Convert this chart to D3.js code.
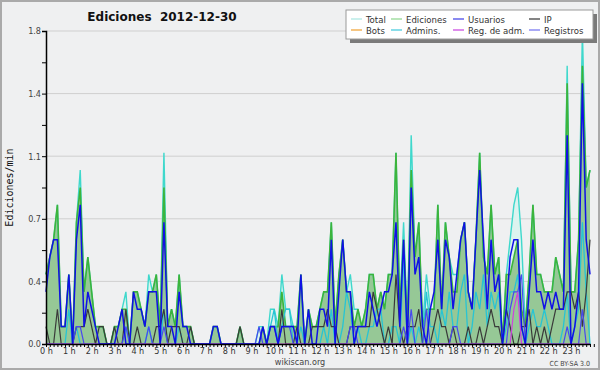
<!DOCTYPE html>
<html>
<head>
<meta charset="utf-8">
<script src="https://cdn.jsdelivr.net/npm/d3@7"></script>
<style>
  body { margin: 0; background: #fff; }
  svg { display: block; }
</style>
</head>
<body>
<svg id="chart" width="600" height="370"></svg>
<script>
// *******************
// Data (edits per minute, 10-minute bins, 2012-12-30)
// *******************

const hourLabels = ["0 h", "1 h", "2 h", "3 h", "4 h", "5 h", "6 h", "7 h", "8 h", "9 h", "10 h", "11 h",
  "12 h", "13 h", "14 h", "15 h", "16 h", "17 h", "18 h", "19 h", "20 h", "21 h", "22 h", "23 h"];
const binsPerHour = 6;
const yTicks = [0, 0.36, 0.72, 1.08, 1.44, 1.8];

const total = [
  0.4, 0.5, 0.6, 0.8, 0.1, 0.1,  0.4, 0.0, 0.7, 1.0, 0.3, 0.5,  0.3, 0.1, 0.1, 0.1, 0.0, 0.0,
  0.1, 0.1, 0.2, 0.3, 0.0, 0.3,  0.3, 0.2, 0.1, 0.4, 0.3, 0.4,  0.1, 1.1, 0.1, 0.2, 0.1, 0.4,
  0.1, 0.1, 0.1, 0.0, 0.0, 0.0,  0.0, 0.0, 0.1, 0.1, 0.0, 0.0,  0.0, 0.0, 0.0, 0.1, 0.0, 0.0,
  0.0, 0.0, 0.1, 0.1, 0.0, 0.2,  0.2, 0.1, 0.4, 0.2, 0.2, 0.1,  0.1, 0.4, 0.0, 0.2, 0.1, 0.1,
  0.2, 0.3, 0.3, 0.7, 0.1, 0.4,  0.6, 0.3, 0.4, 0.2, 0.2, 0.1,  0.2, 0.4, 0.4, 0.2, 0.3, 0.2,
  0.4, 0.4, 1.1, 0.2, 0.7, 0.1,  1.2, 0.5, 0.7, 0.1, 0.4, 0.2,  0.2, 0.8, 0.2, 0.7, 0.5, 0.4,
  0.4, 0.6, 0.7, 0.3, 0.2, 0.6,  1.1, 0.5, 0.4, 0.8, 0.4, 0.5,  0.0, 0.4, 0.6, 0.8, 0.9, 0.6,
  0.1, 0.4, 0.8, 0.4, 0.4, 0.3,  0.3, 0.3, 0.5, 0.4, 0.3, 1.6,  0.3, 0.3, 0.6, 1.8, 0.9, 1.0
];

const ediciones = [
  0.4, 0.5, 0.6, 0.8, 0.1, 0.1,  0.4, 0.0, 0.7, 0.9, 0.3, 0.5,  0.3, 0.1, 0.1, 0.1, 0.0, 0.0,
  0.1, 0.1, 0.2, 0.2, 0.0, 0.3,  0.3, 0.2, 0.1, 0.3, 0.3, 0.4,  0.1, 0.9, 0.1, 0.2, 0.1, 0.4,
  0.1, 0.1, 0.1, 0.0, 0.0, 0.0,  0.0, 0.0, 0.1, 0.1, 0.0, 0.0,  0.0, 0.0, 0.0, 0.1, 0.0, 0.0,
  0.0, 0.0, 0.0, 0.1, 0.0, 0.1,  0.1, 0.1, 0.3, 0.1, 0.1, 0.1,  0.1, 0.4, 0.0, 0.2, 0.1, 0.1,
  0.2, 0.3, 0.3, 0.7, 0.1, 0.4,  0.6, 0.3, 0.3, 0.1, 0.2, 0.1,  0.2, 0.4, 0.4, 0.2, 0.3, 0.2,
  0.4, 0.4, 1.1, 0.2, 0.6, 0.1,  1.0, 0.5, 0.7, 0.1, 0.2, 0.2,  0.2, 0.8, 0.2, 0.7, 0.5, 0.3,
  0.3, 0.6, 0.7, 0.3, 0.2, 0.6,  1.1, 0.5, 0.4, 0.8, 0.4, 0.5,  0.0, 0.4, 0.4, 0.5, 0.6, 0.2,
  0.1, 0.4, 0.8, 0.4, 0.4, 0.3,  0.3, 0.3, 0.5, 0.4, 0.3, 1.5,  0.3, 0.3, 0.6, 1.6, 0.9, 1.0
];

const usuarios = [
  0.3, 0.5, 0.6, 0.6, 0.1, 0.1,  0.4, 0.0, 0.6, 0.8, 0.1, 0.3,  0.2, 0.1, 0.0, 0.0, 0.0, 0.0,
  0.0, 0.1, 0.2, 0.0, 0.0, 0.3,  0.2, 0.2, 0.1, 0.3, 0.3, 0.3,  0.0, 0.7, 0.1, 0.1, 0.0, 0.3,
  0.1, 0.1, 0.0, 0.0, 0.0, 0.0,  0.0, 0.0, 0.1, 0.1, 0.0, 0.0,  0.0, 0.0, 0.0, 0.0, 0.0, 0.0,
  0.0, 0.0, 0.0, 0.1, 0.0, 0.1,  0.1, 0.0, 0.1, 0.1, 0.1, 0.1,  0.0, 0.4, 0.0, 0.2, 0.0, 0.0,
  0.2, 0.2, 0.1, 0.6, 0.0, 0.3,  0.6, 0.3, 0.3, 0.0, 0.1, 0.1,  0.1, 0.3, 0.2, 0.1, 0.2, 0.3,
  0.3, 0.4, 0.7, 0.1, 0.6, 0.0,  0.9, 0.4, 0.5, 0.1, 0.0, 0.2,  0.3, 0.6, 0.2, 0.6, 0.5, 0.2,
  0.4, 0.6, 0.7, 0.3, 0.2, 0.6,  1.0, 0.6, 0.2, 0.6, 0.3, 0.4,  0.0, 0.2, 0.5, 0.6, 0.6, 0.1,
  0.0, 0.3, 0.6, 0.3, 0.3, 0.2,  0.3, 0.2, 0.3, 0.2, 0.2, 1.2,  0.0, 0.1, 0.3, 1.5, 0.6, 0.4
];

const ip = [
  0.1, 0.0, 0.0, 0.2, 0.0, 0.0,  0.0, 0.0, 0.1, 0.1, 0.1, 0.2,  0.1, 0.0, 0.1, 0.1, 0.0, 0.0,
  0.1, 0.0, 0.0, 0.2, 0.0, 0.0,  0.1, 0.0, 0.0, 0.0, 0.0, 0.1,  0.1, 0.2, 0.0, 0.1, 0.1, 0.1,
  0.0, 0.0, 0.1, 0.0, 0.0, 0.0,  0.0, 0.0, 0.0, 0.0, 0.0, 0.0,  0.0, 0.0, 0.0, 0.1, 0.0, 0.0,
  0.0, 0.0, 0.0, 0.0, 0.0, 0.0,  0.0, 0.0, 0.2, 0.0, 0.0, 0.0,  0.1, 0.0, 0.0, 0.0, 0.1, 0.1,
  0.1, 0.1, 0.2, 0.1, 0.1, 0.0,  0.0, 0.0, 0.1, 0.1, 0.1, 0.1,  0.1, 0.1, 0.3, 0.2, 0.1, 0.0,
  0.1, 0.0, 0.4, 0.1, 0.0, 0.1,  0.1, 0.1, 0.2, 0.0, 0.0, 0.0,  0.1, 0.2, 0.1, 0.1, 0.0, 0.1,
  0.0, 0.0, 0.0, 0.1, 0.0, 0.0,  0.1, 0.0, 0.1, 0.2, 0.1, 0.1,  0.0, 0.2, 0.1, 0.0, 0.0, 0.1,
  0.1, 0.2, 0.0, 0.1, 0.0, 0.1,  0.0, 0.1, 0.2, 0.2, 0.2, 0.3,  0.3, 0.2, 0.3, 0.1, 0.3, 0.6
];

const admins = [
  0.0, 0.0, 0.0, 0.0, 0.0, 0.0,  0.2, 0.0, 0.1, 0.0, 0.0, 0.0,  0.0, 0.0, 0.0, 0.0, 0.0, 0.0,
  0.0, 0.0, 0.0, 0.1, 0.0, 0.0,  0.0, 0.0, 0.0, 0.1, 0.0, 0.0,  0.0, 0.2, 0.0, 0.0, 0.0, 0.1,
  0.0, 0.0, 0.0, 0.0, 0.0, 0.0,  0.0, 0.0, 0.0, 0.0, 0.0, 0.0,  0.0, 0.0, 0.0, 0.0, 0.0, 0.0,
  0.0, 0.0, 0.0, 0.0, 0.0, 0.1,  0.2, 0.0, 0.1, 0.2, 0.2, 0.0,  0.0, 0.1, 0.0, 0.0, 0.0, 0.0,
  0.0, 0.1, 0.0, 0.2, 0.0, 0.0,  0.1, 0.3, 0.2, 0.0, 0.1, 0.0,  0.0, 0.1, 0.1, 0.2, 0.2, 0.0,
  0.0, 0.1, 0.1, 0.0, 0.5, 0.0,  0.1, 0.0, 0.1, 0.0, 0.3, 0.1,  0.1, 0.0, 0.2, 0.1, 0.3, 0.1,
  0.1, 0.3, 0.4, 0.0, 0.1, 0.3,  0.2, 0.4, 0.1, 0.3, 0.2, 0.3,  0.0, 0.1, 0.3, 0.3, 0.4, 0.1,
  0.0, 0.1, 0.2, 0.1, 0.1, 0.2,  0.1, 0.0, 0.0, 0.0, 0.1, 0.3,  0.0, 0.1, 0.2, 0.7, 0.3, 0.0
];

const registros = [
  0.0, 0.0, 0.0, 0.0, 0.0, 0.0,  0.0, 0.0, 0.1, 0.1, 0.0, 0.0,  0.0, 0.0, 0.0, 0.0, 0.0, 0.0,
  0.0, 0.0, 0.0, 0.1, 0.0, 0.0,  0.0, 0.0, 0.0, 0.1, 0.0, 0.0,  0.0, 0.1, 0.0, 0.0, 0.0, 0.0,
  0.0, 0.0, 0.0, 0.0, 0.0, 0.0,  0.0, 0.0, 0.0, 0.0, 0.0, 0.0,  0.0, 0.0, 0.0, 0.0, 0.0, 0.0,
  0.0, 0.0, 0.1, 0.0, 0.0, 0.1,  0.1, 0.0, 0.1, 0.1, 0.1, 0.0,  0.0, 0.0, 0.0, 0.0, 0.0, 0.0,
  0.0, 0.0, 0.0, 0.0, 0.0, 0.0,  0.0, 0.0, 0.1, 0.1, 0.0, 0.0,  0.0, 0.0, 0.0, 0.0, 0.0, 0.0,
  0.0, 0.0, 0.0, 0.0, 0.1, 0.0,  0.2, 0.0, 0.0, 0.0, 0.2, 0.0,  0.0, 0.0, 0.0, 0.0, 0.0, 0.1,
  0.1, 0.0, 0.0, 0.0, 0.0, 0.0,  0.0, 0.0, 0.0, 0.0, 0.0, 0.0,  0.0, 0.0, 0.2, 0.3, 0.3, 0.4,
  0.0, 0.0, 0.0, 0.0, 0.0, 0.0,  0.0, 0.0, 0.0, 0.0, 0.0, 0.1,  0.0, 0.0, 0.0, 0.2, 0.0, 0.0
];

const regAdm = [
  0.0, 0.0, 0.0, 0.0, 0.0, 0.0,  0.0, 0.0, 0.0, 0.0, 0.0, 0.0,  0.0, 0.0, 0.0, 0.0, 0.0, 0.0,
  0.0, 0.0, 0.0, 0.0, 0.0, 0.0,  0.0, 0.0, 0.0, 0.0, 0.0, 0.0,  0.0, 0.0, 0.0, 0.0, 0.0, 0.0,
  0.0, 0.0, 0.0, 0.0, 0.0, 0.0,  0.0, 0.0, 0.0, 0.0, 0.0, 0.0,  0.0, 0.0, 0.0, 0.0, 0.0, 0.0,
  0.0, 0.0, 0.0, 0.0, 0.0, 0.0,  0.0, 0.0, 0.0, 0.0, 0.0, 0.0,  0.0, 0.0, 0.0, 0.0, 0.0, 0.0,
  0.0, 0.0, 0.0, 0.0, 0.0, 0.0,  0.0, 0.0, 0.0, 0.0, 0.0, 0.0,  0.0, 0.0, 0.0, 0.0, 0.0, 0.0,
  0.0, 0.0, 0.0, 0.0, 0.0, 0.0,  0.0, 0.0, 0.0, 0.0, 0.0, 0.0,  0.0, 0.0, 0.0, 0.0, 0.0, 0.0,
  0.0, 0.0, 0.0, 0.0, 0.0, 0.0,  0.0, 0.0, 0.0, 0.0, 0.0, 0.0,  0.0, 0.0, 0.0, 0.2, 0.3, 0.0,
  0.0, 0.0, 0.0, 0.0, 0.0, 0.0,  0.0, 0.0, 0.0, 0.0, 0.0, 0.0,  0.0, 0.0, 0.0, 0.0, 0.0, 0.0
];

const bots = new Array(total.length).fill(0);

// *******************
// Layout
// *******************
const WIDTH = 600, HEIGHT = 370;
const PLOT = { LEFT: 46, RIGHT: 590, TOP: 31, BOTTOM: 344 };
const BG = "#eff0f1";
const SMALL_FONT = "'DejaVu Sans Condensed', 'DejaVu Sans', sans-serif";

const svg = d3.select("#chart");

svg.append("rect")
  .attr("x", 1).attr("y", 1)
  .attr("width", WIDTH - 2).attr("height", HEIGHT - 2)
  .attr("fill", BG)
  .attr("stroke", "#aaaaaa")
  .attr("stroke-width", 2);

const x = d3.scaleLinear().domain([0, total.length - 1]).range([PLOT.LEFT, PLOT.RIGHT]);
const y = d3.scaleLinear().domain([0, 1.8]).range([PLOT.BOTTOM, PLOT.TOP]);

// grid lines
svg.append("g")
  .selectAll("line")
  .data(yTicks.slice(1))
  .join("line")
  .attr("x1", PLOT.LEFT).attr("x2", PLOT.RIGHT)
  .attr("y1", d => y(d)).attr("y2", d => y(d))
  .attr("stroke", "#cfcfcf")
  .attr("stroke-width", 1);

// *******************
// Series
// *******************
const area = data => d3.area()
  .x((_, i) => x(i))
  .y0(y(0))
  .y1(d => y(d))(data);
const line = data => d3.line()
  .x((_, i) => x(i))
  .y(d => y(d))(data);

const plot = svg.append("g");

plot.append("path").attr("d", area(total)).attr("fill", "#dcf3ef");
plot.append("path").attr("d", area(ediciones)).attr("fill", "#96c896");

const lineSeries = [
  { data: total, color: "#3fd8cc", width: 1.4 },
  { data: ediciones, color: "#3cb43c", width: 1.6 },
  { data: admins, color: "#28c4d4", width: 1.3 },
  { data: bots, color: "#f0a030", width: 1.2, hide: true },
  { data: ip, color: "#3a3a3a", width: 1.2 },
  { data: registros, color: "#4848f0", width: 1.2 },
  { data: regAdm, color: "#d040e0", width: 1.2 },
  { data: usuarios, color: "#1010e6", width: 1.5 }
];

lineSeries.filter(s => !s.hide).forEach(s => {
  plot.append("path")
    .attr("d", line(s.data))
    .attr("fill", "none")
    .attr("stroke", s.color)
    .attr("stroke-width", s.width)
    .attr("stroke-linejoin", "miter");
});

// *******************
// Axes
// *******************
const yAxis = d3.axisLeft(y)
  .tickValues(yTicks)
  .tickFormat(d3.format(".1f"))
  .tickSize(4)
  .tickPadding(1);

const yMinor = d3.axisLeft(y)
  .tickValues(d3.range(0, 10).map(k => 0.18 + k * 0.36).filter(v => v < 1.8))
  .tickFormat("")
  .tickSize(4);

svg.append("g")
  .attr("transform", `translate(${PLOT.LEFT},0)`)
  .call(yMinor)
  .call(g => g.select(".domain").remove())
  .selectAll("line").attr("stroke", "#000");

svg.append("g")
  .attr("transform", `translate(${PLOT.LEFT},0)`)
  .call(yAxis)
  .call(g => g.select(".domain").attr("stroke", "#000").attr("stroke-width", 1.5))
  .call(g => g.selectAll("text")
    .attr("font-family", SMALL_FONT)
    .attr("font-size", 9)
    .attr("fill", "#444"));

const xAxis = d3.axisBottom(x)
  .tickValues(d3.range(0, total.length + 1))
  .tickFormat(i => (i % binsPerHour === 0 && hourLabels[i / binsPerHour]) ? hourLabels[i / binsPerHour] : "")
  .tickSize(3)
  .tickSizeOuter(0)
  .tickPadding(1);

svg.append("g")
  .attr("transform", `translate(0,${PLOT.BOTTOM})`)
  .call(xAxis)
  .call(g => g.select(".domain").attr("stroke", "#000").attr("stroke-width", 1.5))
  .call(g => g.selectAll("line").attr("stroke", "#000"))
  .call(g => g.selectAll("text")
    .attr("font-family", SMALL_FONT)
    .attr("font-size", 9)
    .attr("fill", "#333"));

// *******************
// Texts
// *******************
svg.append("text")
  .attr("x", 162).attr("y", 21)
  .attr("text-anchor", "middle")
  .attr("font-family", "'DejaVu Sans', sans-serif")
  .attr("font-weight", "bold")
  .attr("font-size", 12)
  .attr("fill", "#111")
  .attr("xml:space", "preserve")
  .text("Ediciones  2012-12-30");

svg.append("text")
  .attr("transform", `translate(13,${(PLOT.TOP + PLOT.BOTTOM) / 2}) rotate(-90)`)
  .attr("text-anchor", "middle")
  .attr("font-family", "'DejaVu Sans Mono', monospace")
  .attr("font-size", 10)
  .attr("fill", "#111")
  .text("Ediciones/min");

svg.append("text")
  .attr("x", 300).attr("y", 365)
  .attr("text-anchor", "middle")
  .attr("font-family", SMALL_FONT)
  .attr("font-size", 9)
  .attr("fill", "#444")
  .text("wikiscan.org");

svg.append("text")
  .attr("x", 590).attr("y", 366)
  .attr("text-anchor", "end")
  .attr("font-family", SMALL_FONT)
  .attr("font-size", 7)
  .attr("fill", "#444")
  .text("CC BY-SA 3.0");

// *******************
// Legend
// *******************
const legendItems = [
  { label: "Total", color: "#a8e6e2", col: 0, row: 0 },
  { label: "Ediciones", color: "#8cd68c", col: 1, row: 0 },
  { label: "Usuarios", color: "#3c3ce6", col: 2, row: 0 },
  { label: "IP", color: "#333333", col: 3, row: 0 },
  { label: "Bots", color: "#f0a030", col: 0, row: 1 },
  { label: "Admins.", color: "#3cc8dc", col: 1, row: 1 },
  { label: "Reg. de adm.", color: "#c840e0", col: 2, row: 1 },
  { label: "Registros", color: "#7070f0", col: 3, row: 1 }
];
const LEGEND = { X: 346, Y: 10, W: 247, H: 29, ROW: 11 };
const legendCols = [351, 391, 453, 529];

svg.append("rect")
  .attr("x", LEGEND.X + 4).attr("y", LEGEND.Y + 4)
  .attr("width", LEGEND.W).attr("height", LEGEND.H)
  .attr("fill", "#7a7a7a");
svg.append("rect")
  .attr("x", LEGEND.X).attr("y", LEGEND.Y)
  .attr("width", LEGEND.W).attr("height", LEGEND.H)
  .attr("fill", "#ffffff")
  .attr("stroke", "#9a9a9a");

const legend = svg.append("g")
  .selectAll("g")
  .data(legendItems)
  .join("g")
  .attr("transform", d => `translate(${legendCols[d.col]},${LEGEND.Y + 9 + d.row * LEGEND.ROW})`);

legend.append("line")
  .attr("x1", 0).attr("x2", 11)
  .attr("stroke", d => d.color)
  .attr("stroke-width", 1.2);

legend.append("text")
  .attr("x", 15).attr("y", 3.5)
  .attr("font-family", SMALL_FONT)
  .attr("font-size", 9.5)
  .attr("fill", "#333")
  .text(d => d.label);
</script>
</body>
</html>
